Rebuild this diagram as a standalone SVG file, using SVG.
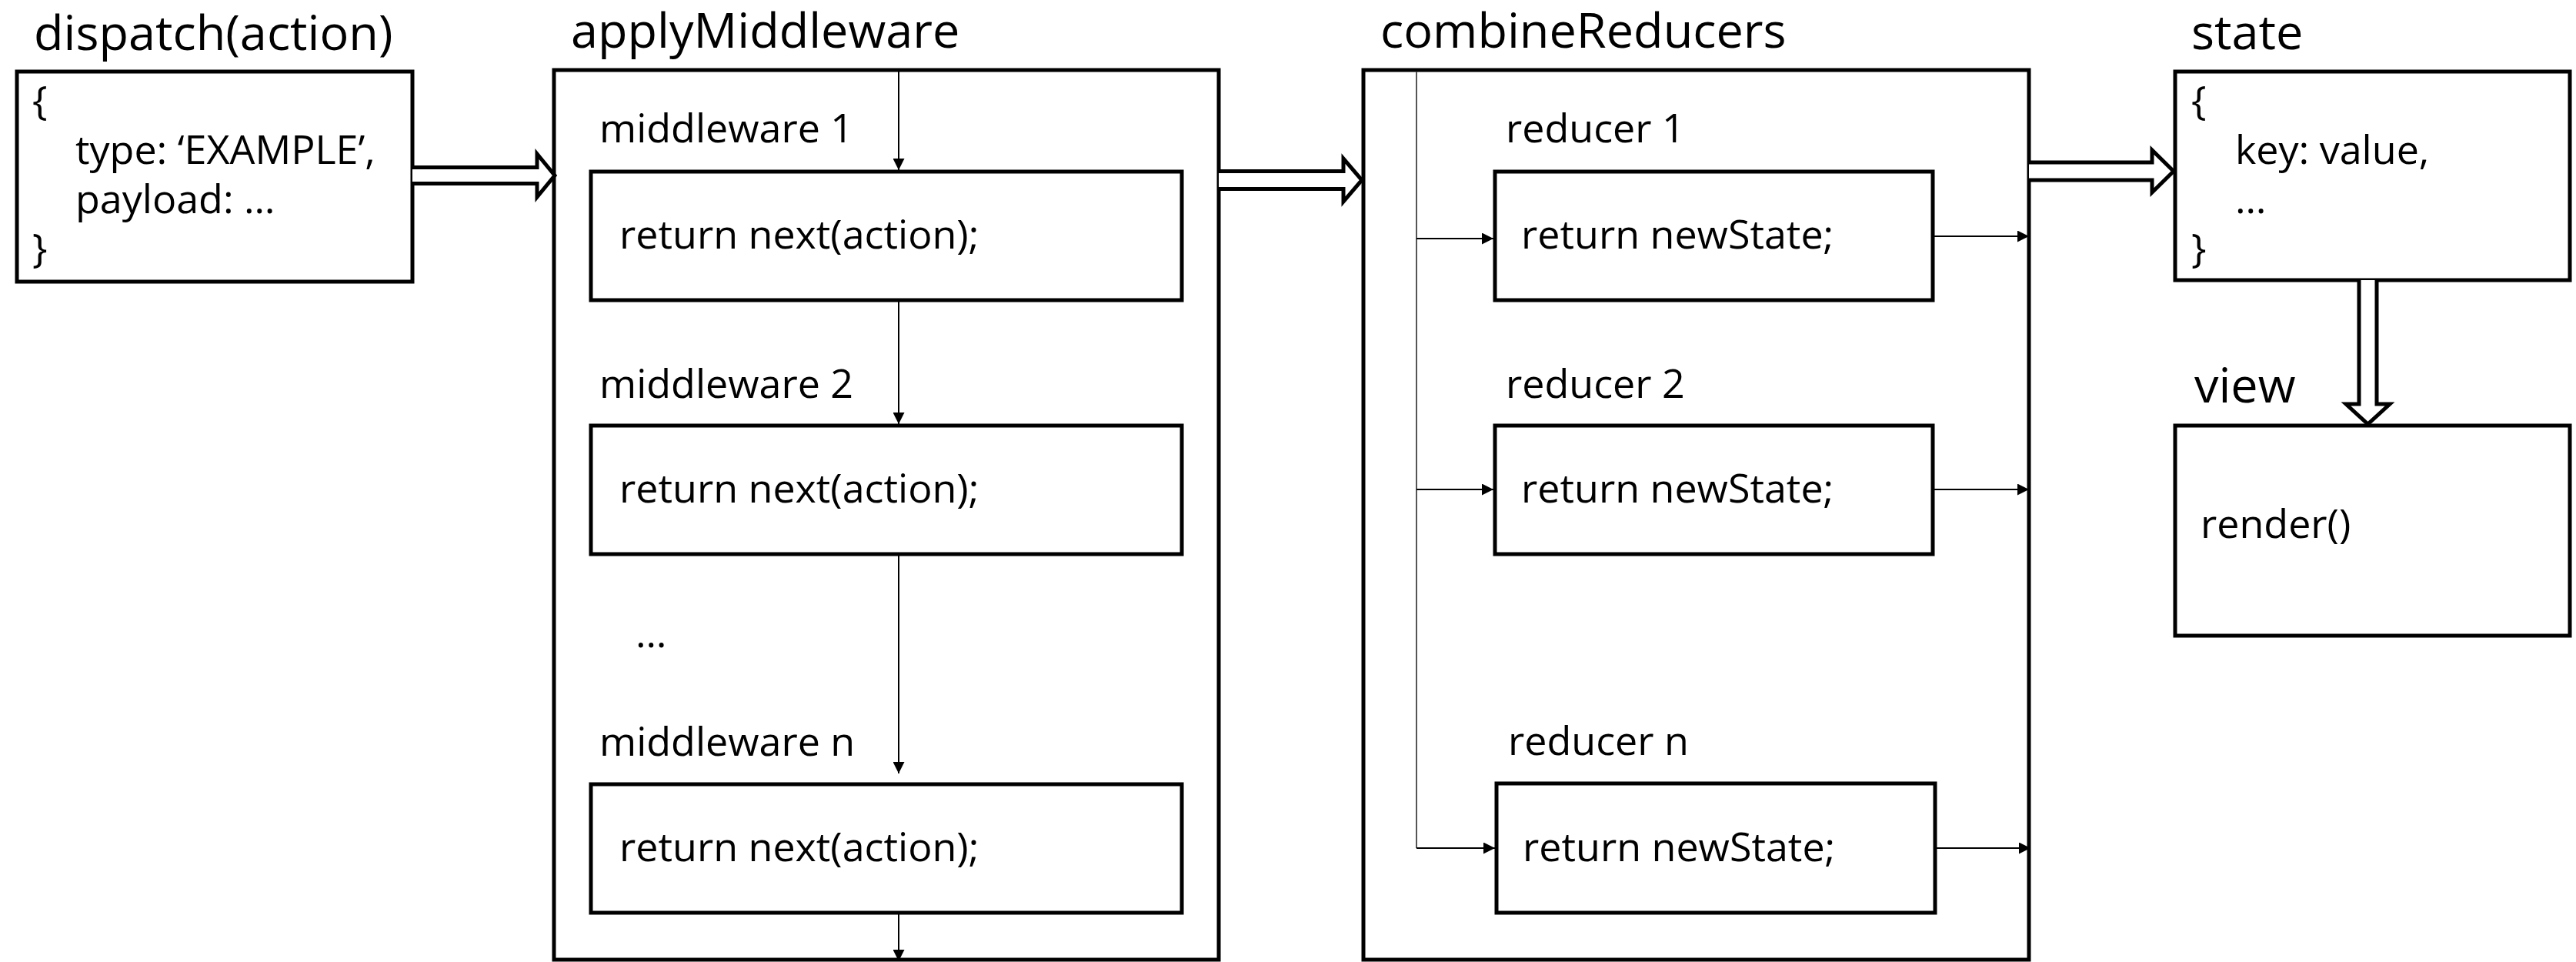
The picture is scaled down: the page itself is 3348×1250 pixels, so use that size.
<svg xmlns="http://www.w3.org/2000/svg" width="3348" height="1250" viewBox="0 0 3348 1250">
<style>
.box{fill:#fff;stroke:#000;stroke-width:5}
.title{font-family:"Open Sans","Noto Sans",sans-serif;font-size:63px;fill:#000}
.body{font-family:"Open Sans","Noto Sans",sans-serif;font-size:52px;fill:#000}
.thin{fill:none;stroke:#000;stroke-width:2}
.grey{fill:none;stroke:#555;stroke-width:2}
.big{fill:#fff;stroke:#000;stroke-width:5;stroke-linejoin:miter}
</style>
<defs>
<marker id="ah" markerUnits="userSpaceOnUse" markerWidth="15" markerHeight="15" refX="15" refY="7.5" orient="auto">
<path d="M0,0 L15,7.5 L0,15 z" fill="#000"/>
</marker>
</defs>
<rect width="3348" height="1250" fill="#fff"/>

<g id="dispatch">
<text class="title" x="44" y="65">dispatch(action)</text>
<rect class="box" x="22" y="93" width="514" height="273"/>
<text class="body" x="42" y="149">{</text>
<text class="body" x="98" y="213">type: ‘EXAMPLE’,</text>
<text class="body" x="98" y="277">payload: …</text>
<text class="body" x="42" y="341">}</text>
</g>

<g id="applyMiddleware">
<text class="title" x="742" y="62">applyMiddleware</text>
<rect class="box" x="720" y="91" width="864" height="1156"/>
</g>
<g id="middleware1">
<text class="body" x="779" y="185">middleware 1</text>
<rect class="box" x="768" y="223" width="768" height="167"/>
<text class="body" x="805" y="323">return next(action);</text>
</g>
<g id="middleware2">
<text class="body" x="779" y="517">middleware 2</text>
<rect class="box" x="768" y="553" width="768" height="167"/>
<text class="body" x="805" y="653">return next(action);</text>
</g>
<g id="middleware-ellipsis">
<text class="body" x="826" y="841">…</text>
</g>
<g id="middlewareN">
<text class="body" x="779" y="982">middleware n</text>
<rect class="box" x="768" y="1019" width="768" height="167"/>
<text class="body" x="805" y="1119">return next(action);</text>
</g>

<g id="combineReducers">
<text class="title" x="1794" y="62">combineReducers</text>
<rect class="box" x="1772" y="91" width="865" height="1156"/>
</g>
<g id="reducer1">
<text class="body" x="1957" y="185">reducer 1</text>
<rect class="box" x="1943" y="223" width="569" height="167"/>
<text class="body" x="1977" y="323">return newState;</text>
</g>
<g id="reducer2">
<text class="body" x="1957" y="517">reducer 2</text>
<rect class="box" x="1943" y="553" width="569" height="167"/>
<text class="body" x="1977" y="653">return newState;</text>
</g>
<g id="reducerN">
<text class="body" x="1960" y="981">reducer n</text>
<rect class="box" x="1945" y="1018" width="570" height="168"/>
<text class="body" x="1979" y="1119">return newState;</text>
</g>

<g id="state">
<text class="title" x="2848" y="64">state</text>
<rect class="box" x="2827" y="93" width="513" height="271"/>
<text class="body" x="2848" y="149">{</text>
<text class="body" x="2905" y="213">key: value,</text>
<text class="body" x="2905" y="277">…</text>
<text class="body" x="2848" y="341">}</text>
</g>

<g id="view">
<text class="title" x="2852" y="523">view</text>
<rect class="box" x="2827" y="553" width="513" height="273"/>
<text class="body" x="2860" y="699">render()</text>
</g>

<g id="connectors">
<path class="big" d="M536,217.5 H698 V200 L721,228 L698,256 V238.5 H536"/>
<path class="big" d="M1584,222.5 H1746 V206 L1770,234 L1746,262 V245.5 H1584"/>
<path class="big" d="M2637,211 H2797 V195 L2825,222.5 L2797,250 V234 H2637"/>
<path class="big" d="M3066,364 V525 H3049 L3077.5,551 L3106,525 H3089 V364"/>

<line class="thin" x1="1168" y1="93" x2="1168" y2="221" marker-end="url(#ah)"/>
<line class="thin" x1="1168" y1="390" x2="1168" y2="551" marker-end="url(#ah)"/>
<line class="thin" x1="1168" y1="720" x2="1168" y2="1005" marker-end="url(#ah)"/>
<line class="thin" x1="1168" y1="1186" x2="1168" y2="1249" marker-end="url(#ah)"/>

<line class="grey" x1="1841" y1="93" x2="1841" y2="1102"/>
<line class="thin" x1="1841" y1="1102" x2="1943" y2="1102" marker-end="url(#ah)"/>
<line class="thin" x1="1841" y1="310" x2="1941" y2="310" marker-end="url(#ah)"/>
<line class="thin" x1="1841" y1="636" x2="1941" y2="636" marker-end="url(#ah)"/>
<line class="thin" x1="2512" y1="307" x2="2637" y2="307" marker-end="url(#ah)"/>
<line class="thin" x1="2512" y1="636" x2="2637" y2="636" marker-end="url(#ah)"/>
<line class="thin" x1="2515" y1="1102" x2="2639" y2="1102" marker-end="url(#ah)"/>
</g>
</svg>
